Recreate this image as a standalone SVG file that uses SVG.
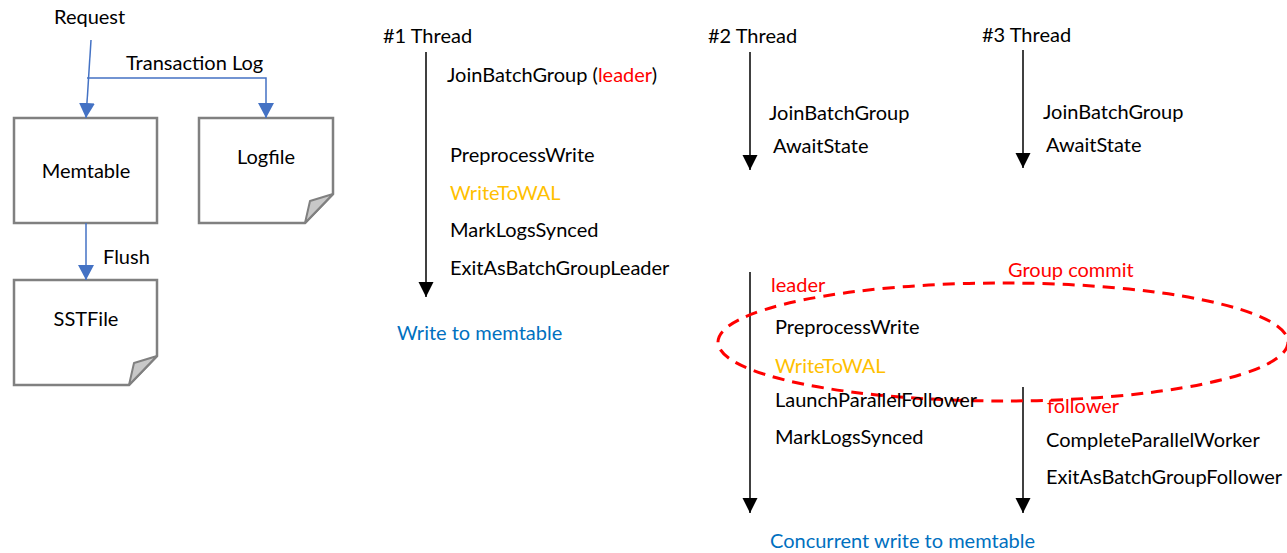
<svg xmlns="http://www.w3.org/2000/svg" width="1287" height="553" viewBox="0 0 1287 553">
  <style>
    text { font-family: Lato, "Liberation Sans", sans-serif; font-size: 20px; fill: #000; }
    .red { fill: #FF0000; }
    .orange { fill: #FFC000; }
    .blue { fill: #0070C0; }
    .box { fill: #fff; stroke: #808080; stroke-width: 2.5; }
    .fold { fill: #C8C8C8; stroke: #808080; stroke-width: 2; stroke-linejoin: round; }
    .flow { fill: none; stroke: #4472C4; stroke-width: 1.5; }
    .thread { fill: none; stroke: #000; stroke-width: 1.5; }
    .group { fill: none; stroke: #FF0000; stroke-width: 3; stroke-dasharray: 12 8; }
  </style>
  <defs>
    <marker id="blueHead" markerUnits="userSpaceOnUse" markerWidth="16" markerHeight="16" viewBox="0 0 16 16" refX="15" refY="8" orient="auto">
      <path d="M0,0 L15,8 L0,16 Z" fill="#4472C4"/>
    </marker>
    <marker id="blackHead" markerUnits="userSpaceOnUse" markerWidth="16" markerHeight="16" viewBox="0 0 16 16" refX="15" refY="8" orient="auto">
      <path d="M0,0.5 L15,8 L0,15.5 Z" fill="#000"/>
    </marker>
  </defs>

  <!-- storage nodes -->
  <g id="memtable">
    <rect class="box" x="14" y="118" width="143" height="105"/>
    <text x="86" y="178" text-anchor="middle">Memtable</text>
  </g>
  <g id="logfile">
    <path class="box" d="M199,118 H333 V194 L305,223 H199 Z"/>
    <path class="fold" d="M305,223 L310,201 L333,194 Z"/>
    <text x="266" y="164" text-anchor="middle">Logfile</text>
  </g>
  <g id="sstfile">
    <path class="box" d="M14,280 H157 V356 L129,385 H14 Z"/>
    <path class="fold" d="M129,385 L134,363 L157,356 Z"/>
    <text x="86" y="326" text-anchor="middle">SSTFile</text>
  </g>

  <!-- thread timelines and data flow -->
  <g id="connectors">
    <path class="flow" d="M91,40 L86,118" marker-end="url(#blueHead)"/>
    <path class="flow" d="M87,78 H266 V118" marker-end="url(#blueHead)"/>
    <path class="flow" d="M86,223 V280" marker-end="url(#blueHead)"/>
    <path class="thread" d="M426,52 V297" marker-end="url(#blackHead)"/>
    <path class="thread" d="M750,52 V170" marker-end="url(#blackHead)"/>
    <path class="thread" d="M1023,50 V168" marker-end="url(#blackHead)"/>
    <path class="thread" d="M750,272 V513" marker-end="url(#blackHead)"/>
    <path class="thread" d="M1023,387 V513" marker-end="url(#blackHead)"/>
  </g>

  <!-- labels -->
  <g id="flow-labels">
    <text x="54" y="24">Request</text>
    <text x="126" y="70">Transaction Log</text>
    <text x="103" y="264">Flush</text>
  </g>

  <g id="thread1">
    <text x="383" y="43">#1 Thread</text>
    <text x="447" y="82">JoinBatchGroup (<tspan class="red">leader</tspan>)</text>
    <text x="450" y="162">PreprocessWrite</text>
    <text x="450" y="200" class="orange">WriteToWAL</text>
    <text x="450" y="237">MarkLogsSynced</text>
    <text x="450" y="275">ExitAsBatchGroupLeader</text>
    <text x="397" y="340" class="blue">Write to memtable</text>
  </g>

  <g id="thread2">
    <text x="708" y="43">#2 Thread</text>
    <text x="769" y="120">JoinBatchGroup</text>
    <text x="773" y="153">AwaitState</text>
  </g>

  <g id="thread3">
    <text x="982" y="42">#3 Thread</text>
    <text x="1043" y="119">JoinBatchGroup</text>
    <text x="1046" y="152">AwaitState</text>
  </g>

  <g id="group-commit">
    <ellipse class="group" cx="1003" cy="342" rx="285" ry="59"/>
    <text x="1008" y="277" class="red">Group commit</text>
    <text x="771" y="292" class="red">leader</text>
    <text x="775" y="334">PreprocessWrite</text>
    <text x="775" y="373" class="orange">WriteToWAL</text>
    <text x="775" y="407">LaunchParallelFollower</text>
    <text x="775" y="444">MarkLogsSynced</text>
    <text x="1047" y="413" class="red">follower</text>
    <text x="1046" y="447">CompleteParallelWorker</text>
    <text x="1046" y="484">ExitAsBatchGroupFollower</text>
    <text x="770" y="548" class="blue">Concurrent write to memtable</text>
  </g>
</svg>
